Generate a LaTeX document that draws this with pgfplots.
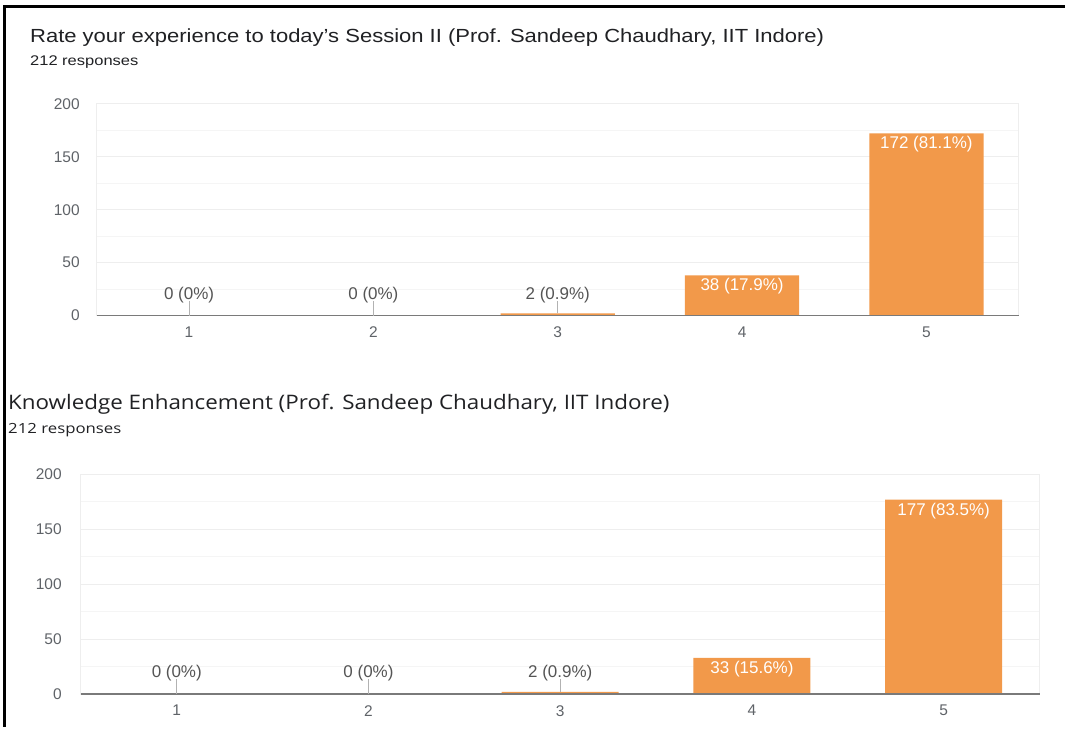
\documentclass[border=0pt]{standalone}
\usepackage{pgfplots}
\pgfplotsset{compat=1.18}
\usepackage{pgfplotstable}
\usepackage{fontspec}
\setmainfont{Liberation Sans}
\newfontfamily\titlefont{Open Sans}
\definecolor{barorange}{HTML}{F2994A}
\definecolor{titlecol}{HTML}{202124}
\definecolor{tickcol}{HTML}{5F6368}
\definecolor{annocol}{HTML}{555555}
\definecolor{gridcol}{HTML}{EEEEEE}
\definecolor{mgridcol}{HTML}{F5F5F5}
\definecolor{basecol}{HTML}{7A7A7A}

\pgfplotstableread{
x y
1 0
2 0
3 2
4 38
5 172
}\sessiondata
\pgfplotstableread{
x y
1 0
2 0
3 2
4 33
5 177
}\knowdata

\pgfplotsset{
  formsbar/.style={
    scale only axis,
    xmin=0.5, xmax=5.5, ymin=0, ymax=200,
    ytick={0,50,100,150,200},
    minor ytick={25,75,125,175},
    xtick={1,2,3,4,5},
    major tick length=0pt, minor tick length=0pt,
    ymajorgrids, yminorgrids,
    major grid style={draw=gridcol, line width=0.8pt},
    minor grid style={draw=mgridcol, line width=0.8pt},
    axis line style={draw=gridcol, line width=0.8pt},
    tick label style={font=\fontsize{15.5}{17}\selectfont, text=tickcol},
    /pgf/number format/assume math mode=true,
    clip=false,
  },
}
\tikzset{
  anno/.style={anchor=base, inner sep=0pt, text=annocol, font=\fontsize{17}{19}\selectfont},
  annoin/.style={anchor=north, inner sep=3pt, text=white, font=\fontsize{17}{19}\selectfont},
}

\begin{document}
\begin{tikzpicture}
% canvas
\path[fill=white] (0pt,0pt) rectangle (1066pt,-728pt);
% frame
\draw[black, line width=3pt] (5pt,-728pt) -- (5pt,-7pt) -- (1066pt,-7pt);

% ---------- top chart ----------
\node[anchor=base west, inner sep=0pt, text=titlecol] at (30pt,-43pt)
  {\scalebox{1.16}[1]{\fontsize{19}{22}\selectfont Rate your experience to today's Session II (Prof. Sandeep Chaudhary, IIT Indore)}};
\node[anchor=base west, inner sep=0pt, text=titlecol] at (30pt,-66pt)
  {\scalebox{1.18}[1]{\fontsize{14}{16}\selectfont 212 responses}};

\begin{axis}[formsbar,
  at={(97pt,-316pt)}, anchor=south west,
  width=923pt, height=212pt,
  yticklabel style={anchor=east, inner sep=0pt, xshift=-17pt},
  xticklabel style={anchor=north, inner sep=0pt, yshift=-11pt},
]
\addplot[ybar, bar width=0.62, fill=barorange, draw=none] table[x=x,y=y] {\sessiondata};
\draw[basecol, line width=1.5pt] (axis cs:0.5,0) -- (axis cs:5.5,0);
\draw[gray!60, line width=1pt] (axis cs:1,0) -- (axis cs:1,14);
\draw[gray!60, line width=1pt] (axis cs:2,0) -- (axis cs:2,14);
\draw[gray!60, line width=1pt] (axis cs:3,2) -- (axis cs:3,14);
\node[anno] at (axis cs:1,15) {0 (0\%)};
\node[anno] at (axis cs:2,15) {0 (0\%)};
\node[anno] at (axis cs:3,15) {2 (0.9\%)};
\node[annoin] at (axis cs:4,38) {38 (17.9\%)};
\node[annoin] at (axis cs:5,172) {172 (81.1\%)};
\end{axis}

% ---------- bottom chart ----------
\node[anchor=base west, inner sep=0pt, text=titlecol] at (8pt,-410pt)
  {\scalebox{1.12}[1]{\titlefont\fontsize{20}{23}\selectfont Knowledge Enhancement (Prof. Sandeep Chaudhary, IIT Indore)}};
\node[anchor=base west, inner sep=0pt, text=titlecol] at (8pt,-434pt)
  {\scalebox{1.2}[1]{\titlefont\fontsize{14}{16}\selectfont 212 responses}};

\begin{axis}[formsbar,
  at={(81pt,-695pt)}, anchor=south west,
  width=960pt, height=220pt,
  yticklabel style={anchor=east, inner sep=0pt, xshift=-19pt},
  xticklabel style={anchor=north, inner sep=0pt, yshift=-11pt},
]
\addplot[ybar, bar width=0.61, fill=barorange, draw=none] table[x=x,y=y] {\knowdata};
\draw[basecol, line width=1.5pt] (axis cs:0.5,0) -- (axis cs:5.5,0);
\draw[gray!60, line width=1pt] (axis cs:1,0) -- (axis cs:1,14);
\draw[gray!60, line width=1pt] (axis cs:2,0) -- (axis cs:2,14);
\draw[gray!60, line width=1pt] (axis cs:3,2) -- (axis cs:3,14);
\node[anno] at (axis cs:1,15) {0 (0\%)};
\node[anno] at (axis cs:2,15) {0 (0\%)};
\node[anno] at (axis cs:3,15) {2 (0.9\%)};
\node[annoin] at (axis cs:4,33) {33 (15.6\%)};
\node[annoin] at (axis cs:5,177) {177 (83.5\%)};
\end{axis}
\end{tikzpicture}
\end{document}
